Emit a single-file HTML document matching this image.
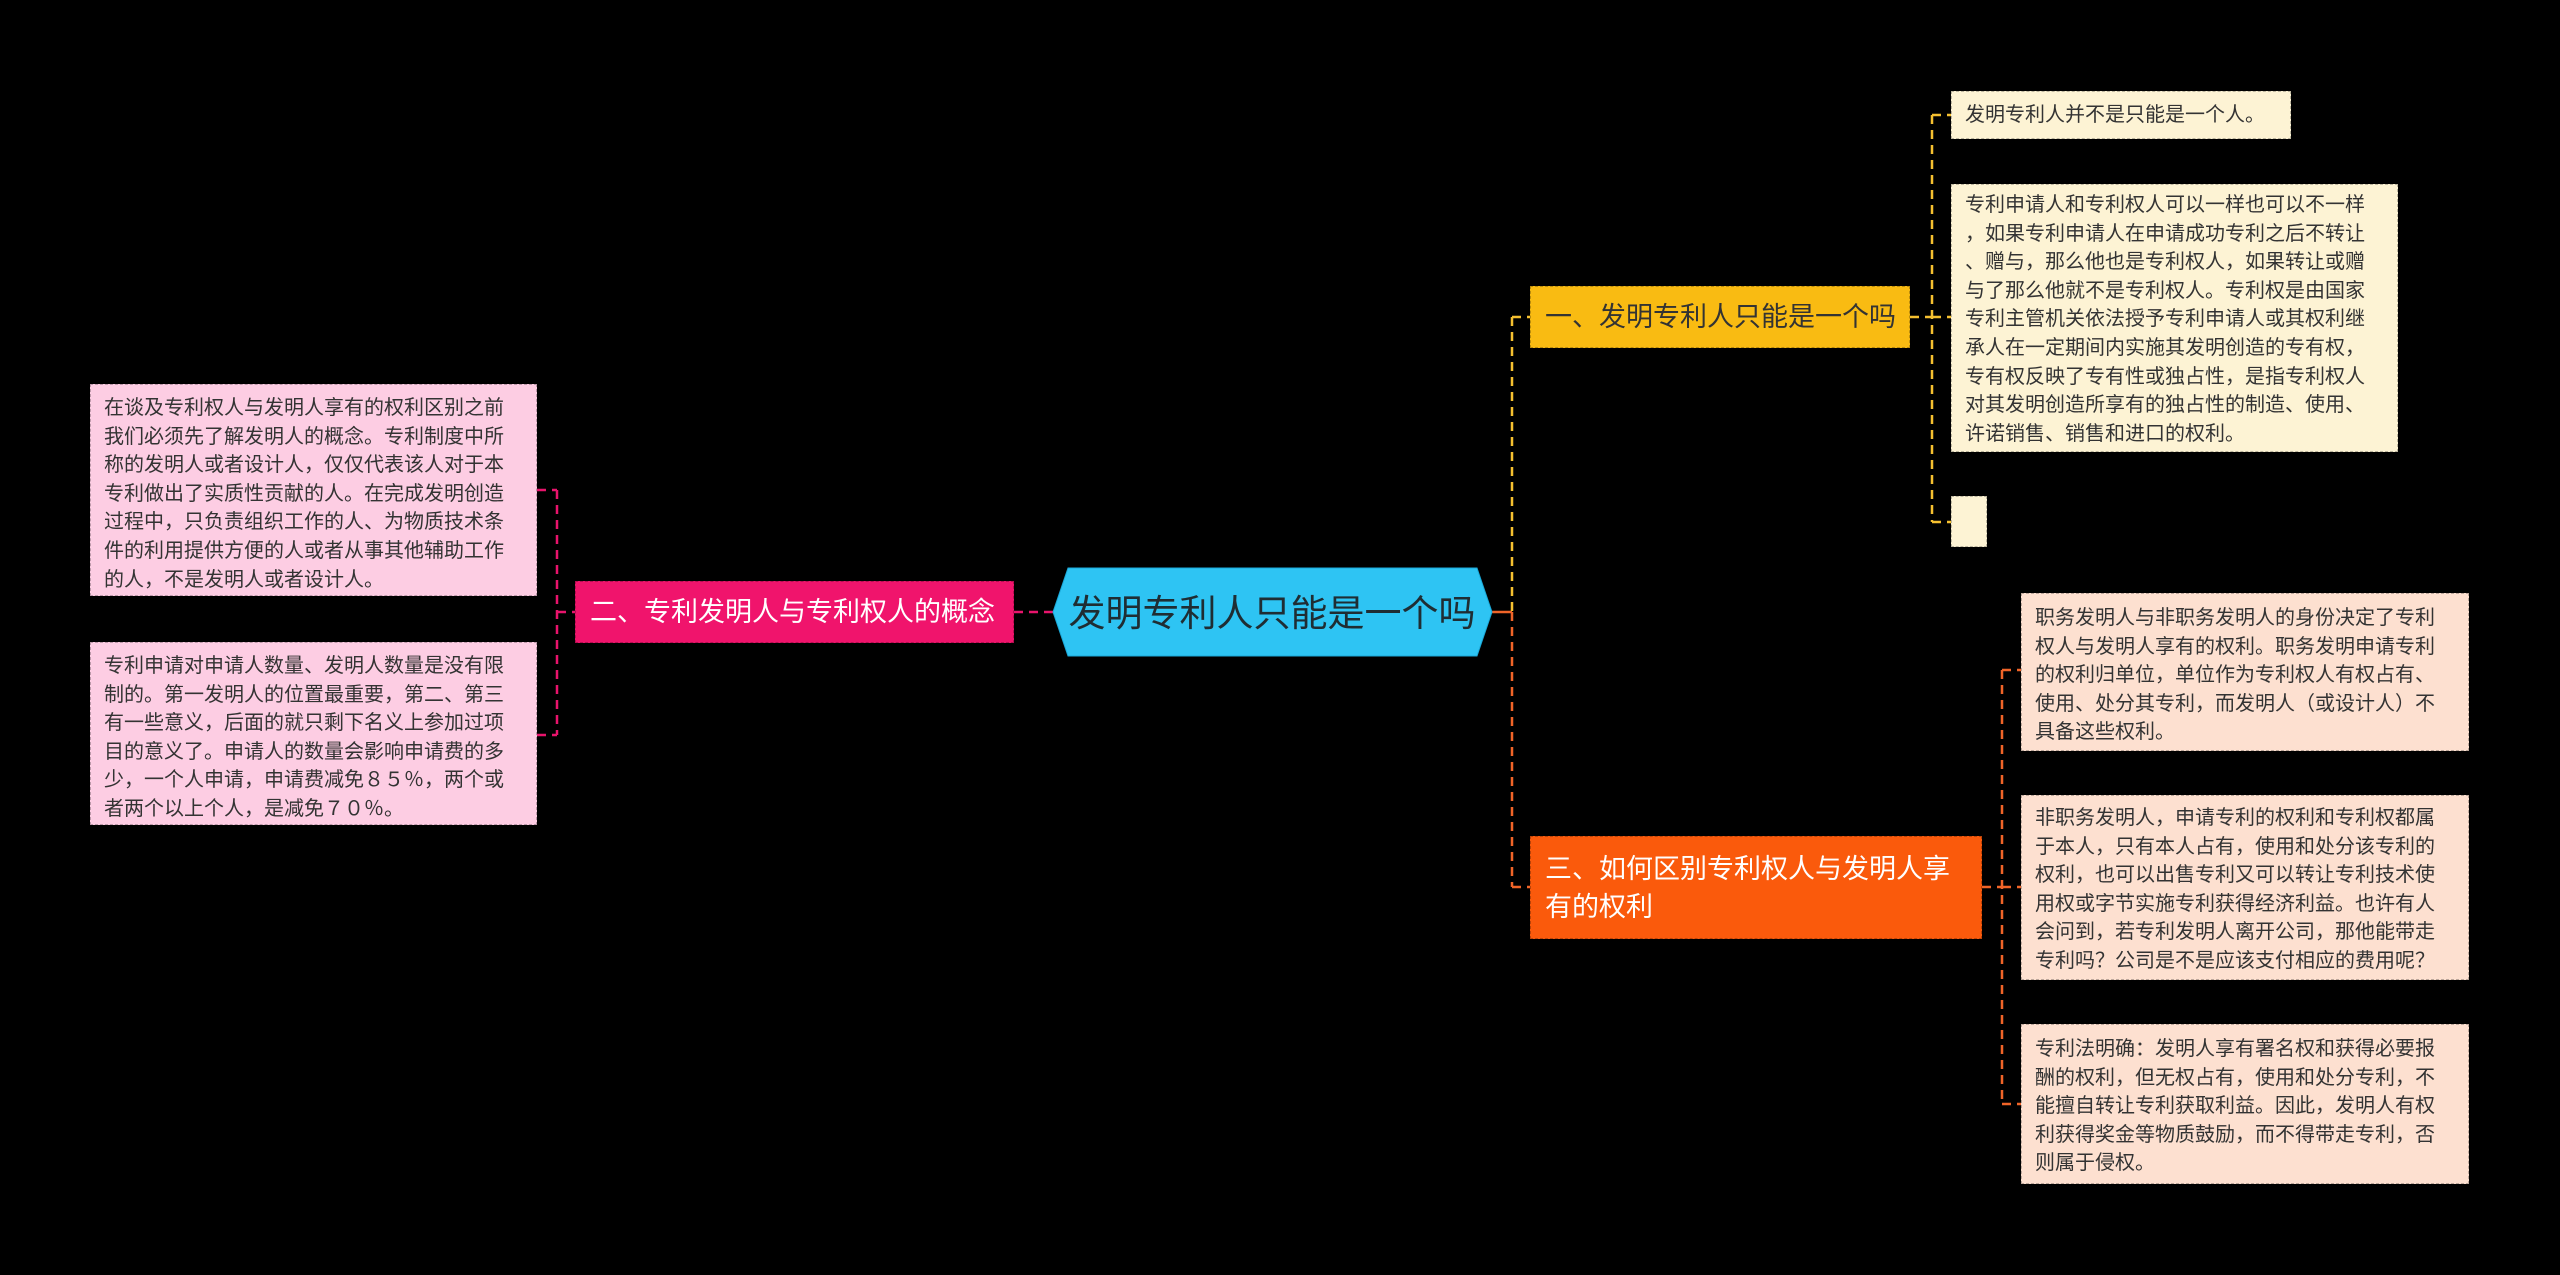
<!DOCTYPE html>
<html><head><meta charset="utf-8">
<style>
html,body{margin:0;padding:0;background:#000;}
body{width:2560px;height:1275px;position:relative;overflow:hidden;font-family:"Liberation Sans","Noto Sans CJK SC",sans-serif;}
.n{position:absolute;box-sizing:border-box;}
.leaf{font-size:20px;line-height:28.6px;color:#333;padding:12px 0 0 13px;border:1.5px dashed rgba(0,0,0,0.25);white-space:nowrap;}
.y{background:#fdf3d4;}
.p{background:#fde0d0;}
.k{background:#fdcde3;}
.br{font-size:27px;line-height:38px;padding-left:14px;display:flex;align-items:center;white-space:nowrap;}
</style></head><body>
<svg width="2560" height="1275" style="position:absolute;left:0;top:0">
<g fill="none" stroke-width="2.5" stroke-dasharray="9,6">
<!-- center to right -->
<line x1="1492" y1="612" x2="1512" y2="612" stroke="#f06428" stroke-dasharray="none"/>
<line x1="1512" y1="317" x2="1512" y2="612" stroke="#f5c030"/>
<line x1="1512" y1="612" x2="1512" y2="887" stroke="#f06428"/>
<line x1="1512" y1="317" x2="1530" y2="317" stroke="#f5c030"/>
<line x1="1512" y1="887" x2="1530" y2="887" stroke="#f06428"/>
<!-- branch1 -->
<line x1="1910" y1="317" x2="1932" y2="317" stroke="#f5c030"/>
<line x1="1932" y1="115" x2="1932" y2="522" stroke="#f5c030"/>
<line x1="1932" y1="115" x2="1951" y2="115" stroke="#f5c030"/>
<line x1="1932" y1="317" x2="1951" y2="317" stroke="#f5c030"/>
<line x1="1932" y1="522" x2="1951" y2="522" stroke="#f5c030"/>
<!-- branch3 -->
<line x1="1982" y1="887" x2="2002" y2="887" stroke="#f06428"/>
<line x1="2002" y1="670" x2="2002" y2="1104" stroke="#f06428"/>
<line x1="2002" y1="670" x2="2021" y2="670" stroke="#f06428"/>
<line x1="2002" y1="887" x2="2021" y2="887" stroke="#f06428"/>
<line x1="2002" y1="1104" x2="2021" y2="1104" stroke="#f06428"/>
<!-- left -->
<line x1="1014" y1="612" x2="1053" y2="612" stroke="#e8146c"/>
<line x1="557" y1="612" x2="575" y2="612" stroke="#e8146c"/>
<line x1="557" y1="490" x2="557" y2="735" stroke="#e8146c"/>
<line x1="537" y1="490" x2="557" y2="490" stroke="#e8146c"/>
<line x1="537" y1="735" x2="557" y2="735" stroke="#e8146c"/>
</g>
<polygon points="1053,612 1068,568 1477,568 1492,612 1477,656 1068,656" fill="#2ec4f3" stroke="#1aa8d8" stroke-width="1"/>
<text x="1272" y="626" text-anchor="middle" font-size="37" fill="#1f2d33" font-family="Liberation Sans, Noto Sans CJK SC, sans-serif">发明专利人只能是一个吗</text>
</svg>

<div class="n br" style="left:1530px;top:286px;width:380px;height:62px;background:#f9bb12;color:#333;border:1.5px dashed rgba(0,0,0,0.25)">一、发明专利人只能是一个吗</div>
<div class="n br" style="left:1530px;top:836px;width:452px;height:103px;background:#fa5a0c;color:#fff;white-space:normal;border:1.5px dashed rgba(0,0,0,0.25)">三、如何区别专利权人与发明人享<br>有的权利</div>
<div class="n br" style="left:575px;top:581px;width:439px;height:62px;background:#f0146c;color:#fff;border:1.5px dashed rgba(0,0,0,0.25)">二、专利发明人与专利权人的概念</div>

<div class="n leaf y" style="left:1951px;top:91px;width:340px;height:48px;padding-top:9px">发明专利人并不是只能是一个人。</div>
<div class="n leaf y" style="left:1951px;top:184px;width:447px;height:268px;padding-top:6px">专利申请人和专利权人可以一样也可以不一样<br>，如果专利申请人在申请成功专利之后不转让<br>、赠与，那么他也是专利权人，如果转让或赠<br>与了那么他就不是专利权人。专利权是由国家<br>专利主管机关依法授予专利申请人或其权利继<br>承人在一定期间内实施其发明创造的专有权，<br>专有权反映了专有性或独占性，是指专利权人<br>对其发明创造所享有的独占性的制造、使用、<br>许诺销售、销售和进口的权利。</div>
<div class="n leaf y" style="left:1951px;top:496px;width:36px;height:51px"></div>

<div class="n leaf p" style="left:2021px;top:593px;width:448px;height:158px;padding-top:10px">职务发明人与非职务发明人的身份决定了专利<br>权人与发明人享有的权利。职务发明申请专利<br>的权利归单位，单位作为专利权人有权占有、<br>使用、处分其专利，而发明人（或设计人）不<br>具备这些权利。</div>
<div class="n leaf p" style="left:2021px;top:795px;width:448px;height:185px;padding-top:8px">非职务发明人，申请专利的权利和专利权都属<br>于本人，只有本人占有，使用和处分该专利的<br>权利，也可以出售专利又可以转让专利技术使<br>用权或字节实施专利获得经济利益。也许有人<br>会问到，若专利发明人离开公司，那他能带走<br>专利吗？公司是不是应该支付相应的费用呢？</div>
<div class="n leaf p" style="left:2021px;top:1024px;width:448px;height:160px;padding-top:10px">专利法明确：发明人享有署名权和获得必要报<br>酬的权利，但无权占有，使用和处分专利，不<br>能擅自转让专利获取利益。因此，发明人有权<br>利获得奖金等物质鼓励，而不得带走专利，否<br>则属于侵权。</div>

<div class="n leaf k" style="left:90px;top:384px;width:447px;height:212px;padding-top:9px">在谈及专利权人与发明人享有的权利区别之前<br>我们必须先了解发明人的概念。专利制度中所<br>称的发明人或者设计人，仅仅代表该人对于本<br>专利做出了实质性贡献的人。在完成发明创造<br>过程中，只负责组织工作的人、为物质技术条<br>件的利用提供方便的人或者从事其他辅助工作<br>的人，不是发明人或者设计人。</div>
<div class="n leaf k" style="left:90px;top:642px;width:447px;height:183px;padding-top:9px">专利申请对申请人数量、发明人数量是没有限<br>制的。第一发明人的位置最重要，第二、第三<br>有一些意义，后面的就只剩下名义上参加过项<br>目的意义了。申请人的数量会影响申请费的多<br>少，一个人申请，申请费减免８５％，两个或<br>者两个以上个人，是减免７０％。</div>
</body></html>
